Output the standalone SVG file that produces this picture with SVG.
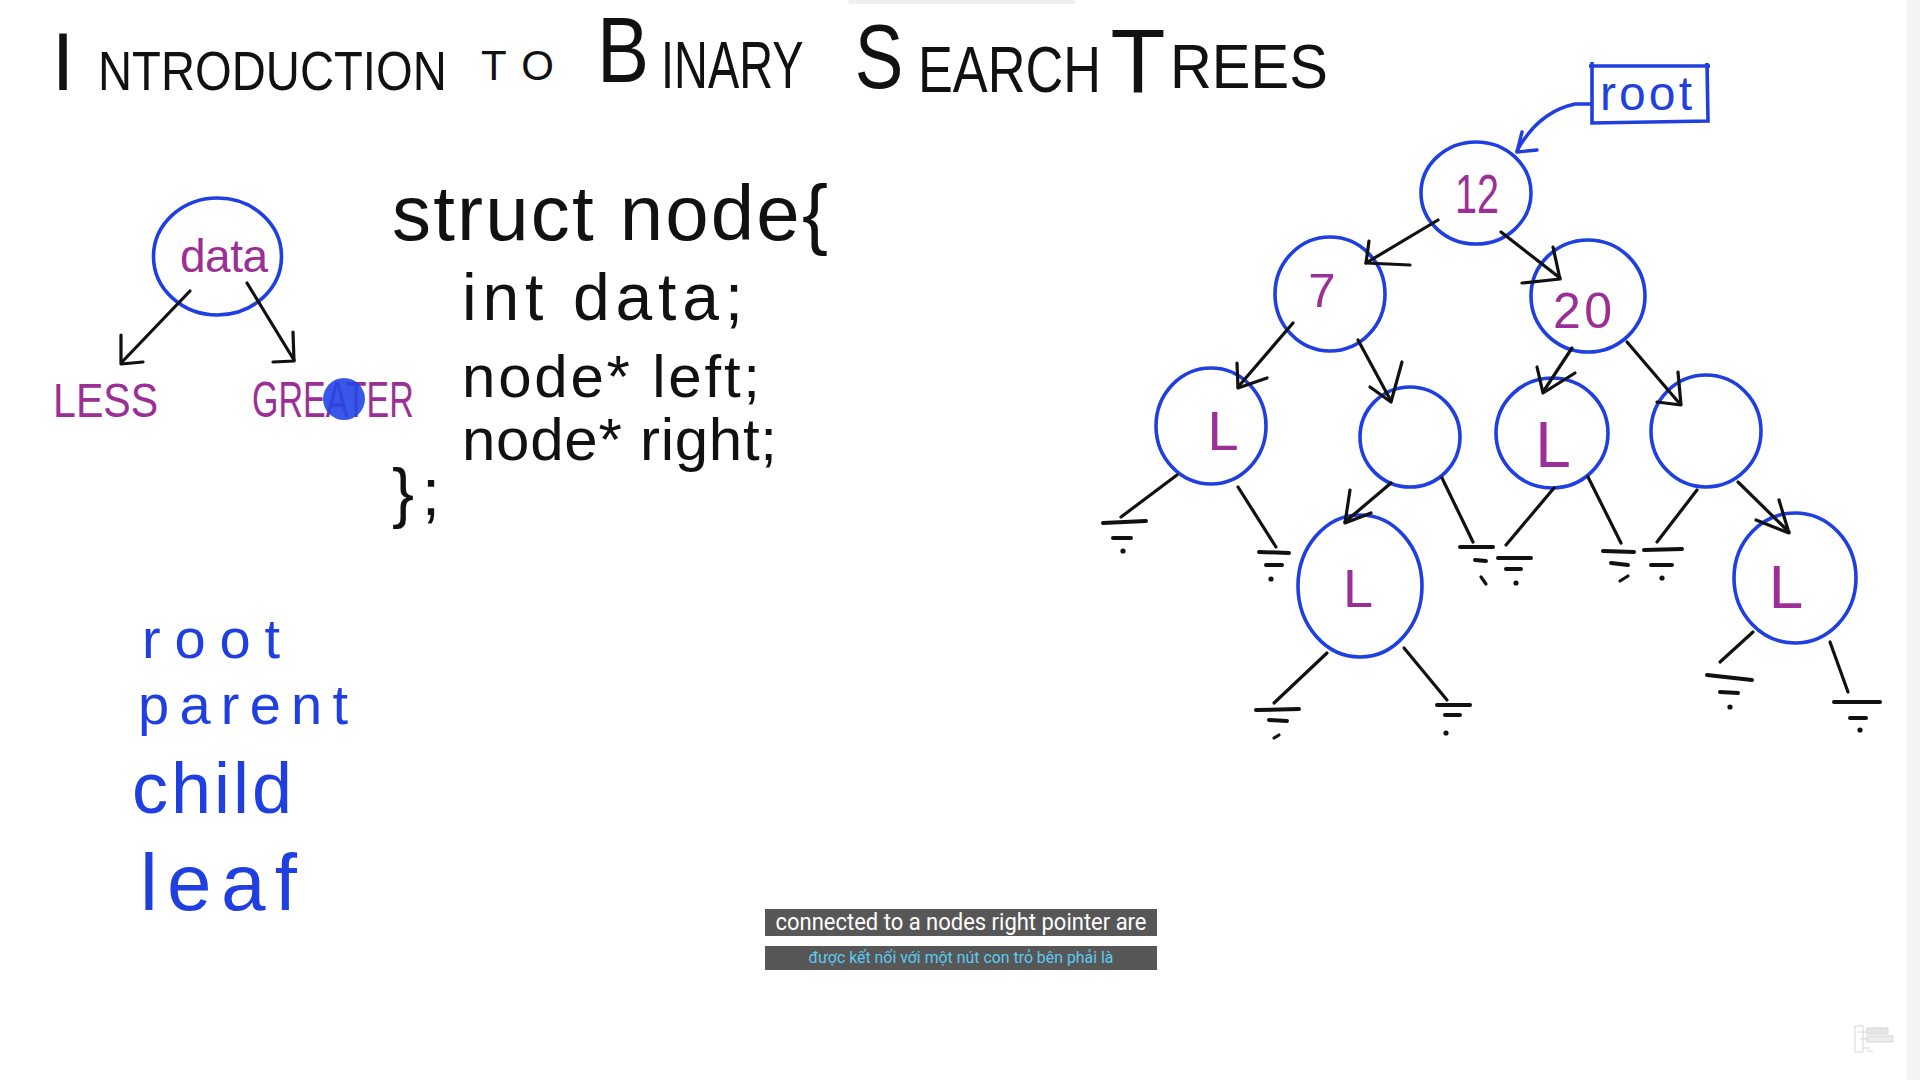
<svg xmlns="http://www.w3.org/2000/svg" width="1920" height="1080" viewBox="0 0 1920 1080">
<style>
.bc{fill:none;stroke:#1f3fe0;stroke-width:3.6}
.ln{fill:none;stroke:#111;stroke-width:3.2;stroke-linecap:round;stroke-linejoin:round}
.gb{fill:none;stroke:#111;stroke-width:4;stroke-linecap:round}
.dot{fill:#111}
.tt{fill:#111;font-family:"Liberation Sans",Arial,sans-serif}
.kt{fill:#111;font-family:"Liberation Sans",Arial,sans-serif}
.pt{fill:#9b2f96;font-family:"Liberation Sans",Arial,sans-serif}
.bt{fill:#1f3fe0;font-family:"Liberation Sans",Arial,sans-serif}
.sub{fill:#575757}
</style>
<rect x="0" y="0" width="1920" height="1080" fill="#ffffff"/>
<rect x="1907" y="0" width="13" height="1080" fill="#f4f4f4"/>
<rect x="848" y="0" width="228" height="4" rx="2" fill="#efefef"/>

<g id="title">
<text class="tt" x="63" y="90" font-size="81" text-anchor="middle">I</text>
<text class="tt" transform="translate(98,90) scale(0.843,1)" font-size="56">NTRODUCTION</text>
<text class="tt" x="481" y="80" font-size="42" textLength="73" lengthAdjust="spacing">TO</text>
<text class="tt" transform="translate(623,82) scale(0.84,1)" font-size="93" text-anchor="middle">B</text>
<text class="tt" transform="translate(661,88) scale(0.70,1)" font-size="67">INARY</text>
<text class="tt" transform="translate(879,88) scale(0.8,1)" font-size="91" text-anchor="middle">S</text>
<text class="tt" transform="translate(918,92) scale(0.817,1)" font-size="64">EARCH</text>
<text class="tt" x="1138" y="93" font-size="90" text-anchor="middle">T</text>
<text class="tt" transform="translate(1170,88) scale(0.92,1)" font-size="63">REES</text>
</g>

<g id="data-node">
<ellipse class="bc" cx="217.5" cy="256.5" rx="64" ry="58.5"/>
<text class="pt" x="180" y="272" font-size="46" textLength="88" lengthAdjust="spacing">data</text>
</g>
<g id="less-label">
<text class="pt" transform="translate(53,417) scale(0.84,1)" font-size="49">LESS</text>
</g>
<g id="greater-label">
<text class="pt" transform="translate(252,417) scale(0.68,1)" font-size="50">GREATER</text>
<circle cx="344" cy="399" r="21" fill="#2446e6" fill-opacity="0.9"/>
</g>

<g id="struct-code">
<text class="kt" x="392" y="240" font-size="78" textLength="436" lengthAdjust="spacing">struct node{</text>
<text class="kt" x="462" y="320" font-size="66" textLength="281" lengthAdjust="spacing">int data;</text>
<text class="kt" x="462" y="397" font-size="60" textLength="298" lengthAdjust="spacing">node* left;</text>
<text class="kt" x="462" y="460" font-size="60" textLength="315" lengthAdjust="spacing">node* right;</text>
<text class="kt" x="392" y="515" font-size="66" textLength="48" lengthAdjust="spacing">};</text>
</g>

<g id="terms">
<text class="bt" x="142" y="658" font-size="56" textLength="138" lengthAdjust="spacing">root</text>
<text class="bt" x="138" y="724" font-size="56" textLength="210" lengthAdjust="spacing">parent</text>
<text class="bt" x="132" y="813" font-size="72" textLength="160" lengthAdjust="spacing">child</text>
<text class="bt" x="140" y="910" font-size="80" textLength="157" lengthAdjust="spacing">leaf</text>
</g>

<g id="root-label">
<path class="bc" d="M1589,66 L1710,66 M1592,62 L1592,123 L1708,121 L1707,63"/>
<text class="bt" x="1600" y="110" font-size="48" textLength="92" lengthAdjust="spacing">root</text>
</g>

<g id="n12"><ellipse class="bc" cx="1476" cy="193" rx="55" ry="51"/><text class="pt" x="1455" y="213" font-size="56" textLength="44" lengthAdjust="spacingAndGlyphs">12</text></g>
<g id="n7"><ellipse class="bc" cx="1330" cy="294" rx="55" ry="57"/><text class="pt" x="1322" y="307" font-size="49" text-anchor="middle">7</text></g>
<g id="n20"><ellipse class="bc" cx="1588" cy="296" rx="57" ry="56"/><text class="pt" x="1553" y="328" font-size="50" textLength="59" lengthAdjust="spacing">20</text></g>
<g id="nL1"><ellipse class="bc" cx="1211" cy="426" rx="55" ry="58"/><text class="pt" x="1223" y="450" font-size="56" text-anchor="middle">L</text></g>
<g id="nE1"><ellipse class="bc" cx="1410" cy="437" rx="50" ry="50"/></g>
<g id="nL2"><ellipse class="bc" cx="1552" cy="433" rx="56" ry="55"/><text class="pt" x="1553" y="467" font-size="64" text-anchor="middle">L</text></g>
<g id="nE2"><ellipse class="bc" cx="1706" cy="431" rx="55" ry="56"/></g>
<g id="nL3"><ellipse class="bc" cx="1360" cy="586" rx="62" ry="71"/><text class="pt" x="1358" y="607" font-size="54" text-anchor="middle">L</text></g>
<g id="nL4"><ellipse class="bc" cx="1795" cy="578" rx="61" ry="65"/><text class="pt" x="1786" y="608" font-size="62" text-anchor="middle">L</text></g>

<g id="connectors">
<line class="ln" x1="190" y1="291" x2="122" y2="362"/>
<polyline class="ln" points="121,335 121,364 143,362"/>
<line class="ln" x1="247" y1="283" x2="294" y2="360"/>
<polyline class="ln" points="293,332 294,361 273,362"/>
<path fill="none" stroke="#1f3fe0" stroke-width="3.4" stroke-linecap="round" d="M1592,104 L1575,104 Q1538,112 1517,151"/>
<polyline fill="none" stroke="#1f3fe0" stroke-width="3.4" stroke-linecap="round" stroke-linejoin="round" points="1522,132 1517,152 1537,150"/>
<line class="ln" x1="1438" y1="220" x2="1366" y2="263"/>
<polyline class="ln" points="1369,241 1366,263 1410,265"/>
<line class="ln" x1="1501" y1="232" x2="1560" y2="278"/>
<polyline class="ln" points="1553,247 1560,279 1522,283"/>
<line class="ln" x1="1293" y1="323" x2="1238" y2="387"/>
<polyline class="ln" points="1237,363 1238,388 1267,378"/>
<line class="ln" x1="1358" y1="340" x2="1391" y2="401"/>
<polyline class="ln" points="1402,362 1391,402 1370,387"/>
<line class="ln" x1="1572" y1="348" x2="1543" y2="392"/>
<polyline class="ln" points="1537,367 1543,393 1575,373"/>
<line class="ln" x1="1627" y1="342" x2="1680" y2="404"/>
<polyline class="ln" points="1678,372 1681,405 1657,402"/>
<line class="ln" x1="1391" y1="483" x2="1345" y2="522"/>
<polyline class="ln" points="1350,490 1345,523 1371,513"/>
<line class="ln" x1="1738" y1="482" x2="1789" y2="532"/>
<polyline class="ln" points="1779,500 1789,533 1756,520"/>
<line class="ln" x1="1177" y1="475" x2="1121" y2="517"/>
<line class="gb" x1="1103" y1="523" x2="1146" y2="521"/><line class="gb" x1="1113" y1="538" x2="1131" y2="538"/><circle class="dot" cx="1123" cy="551" r="2.6"/>
<line class="ln" x1="1238" y1="487" x2="1276" y2="547"/>
<line class="gb" x1="1259" y1="552" x2="1289" y2="553"/><line class="gb" x1="1266" y1="565" x2="1282" y2="565"/><circle class="dot" cx="1271" cy="579" r="2.6"/>
<line class="ln" x1="1442" y1="478" x2="1473" y2="542"/>
<line class="gb" x1="1460" y1="547" x2="1493" y2="547"/><line class="gb" x1="1475" y1="560" x2="1486" y2="561"/><line class="ln" x1="1481" y1="577" x2="1486" y2="584"/>
<line class="ln" x1="1554" y1="488" x2="1506" y2="545"/>
<line class="gb" x1="1498" y1="558" x2="1531" y2="558"/><line class="gb" x1="1506" y1="569" x2="1521" y2="569"/><circle class="dot" cx="1516" cy="583" r="2.6"/>
<line class="ln" x1="1588" y1="477" x2="1621" y2="543"/>
<line class="gb" x1="1603" y1="551" x2="1634" y2="552"/><line class="gb" x1="1611" y1="563" x2="1628" y2="565"/><line class="ln" x1="1620" y1="581" x2="1628" y2="576"/>
<line class="ln" x1="1697" y1="490" x2="1657" y2="542"/>
<line class="gb" x1="1644" y1="550" x2="1682" y2="549"/><line class="gb" x1="1651" y1="565" x2="1672" y2="565"/><circle class="dot" cx="1662" cy="578" r="2.6"/>
<line class="ln" x1="1327" y1="653" x2="1274" y2="703"/>
<line class="gb" x1="1256" y1="710" x2="1299" y2="709"/><line class="gb" x1="1269" y1="720" x2="1287" y2="721"/><line class="ln" x1="1274" y1="738" x2="1279" y2="735"/>
<line class="ln" x1="1404" y1="648" x2="1447" y2="700"/>
<line class="gb" x1="1437" y1="705" x2="1470" y2="705"/><line class="gb" x1="1445" y1="715" x2="1460" y2="715"/><circle class="dot" cx="1446" cy="733" r="2.6"/>
<line class="ln" x1="1753" y1="632" x2="1720" y2="662"/>
<line class="gb" x1="1707" y1="675" x2="1752" y2="680"/><line class="gb" x1="1720" y1="692" x2="1738" y2="693"/><circle class="dot" cx="1730" cy="707" r="2.6"/>
<line class="ln" x1="1830" y1="642" x2="1848" y2="692"/>
<line class="gb" x1="1834" y1="702" x2="1880" y2="702"/><line class="gb" x1="1850" y1="718" x2="1866" y2="718"/><circle class="dot" cx="1860" cy="730" r="2.6"/>
</g>

<g id="subtitles">
<rect class="sub" x="765" y="909" width="392" height="27"/>
<text x="961" y="930" font-size="23" fill="#ffffff" text-anchor="middle" font-family="Roboto,'Liberation Sans',sans-serif" textLength="371" lengthAdjust="spacingAndGlyphs">connected to a nodes right pointer are</text>
<rect class="sub" x="765" y="946" width="392" height="24"/>
<text x="961" y="963" font-size="16.5" fill="#5ccaf0" text-anchor="middle" font-family="Roboto,'Liberation Sans',sans-serif" textLength="305" lengthAdjust="spacingAndGlyphs">được kết nối với một nút con trỏ bên phải là</text>
</g>

<g id="watermark" fill="none" stroke="#d6d6d6" stroke-width="1">
<rect x="1855" y="1026" width="8" height="26"/>
<line x1="1858" y1="1032" x2="1867" y2="1032"/>
<rect x="1867" y="1028" width="21" height="6" fill="#e6e6e6"/>
<line x1="1860" y1="1039" x2="1867" y2="1039"/>
<rect x="1867" y="1036" width="26" height="6" fill="#ececec"/>
<line x1="1863" y1="1048" x2="1870" y2="1048"/>
<line x1="1867" y1="1051" x2="1873" y2="1051"/>
</g>
</svg>
